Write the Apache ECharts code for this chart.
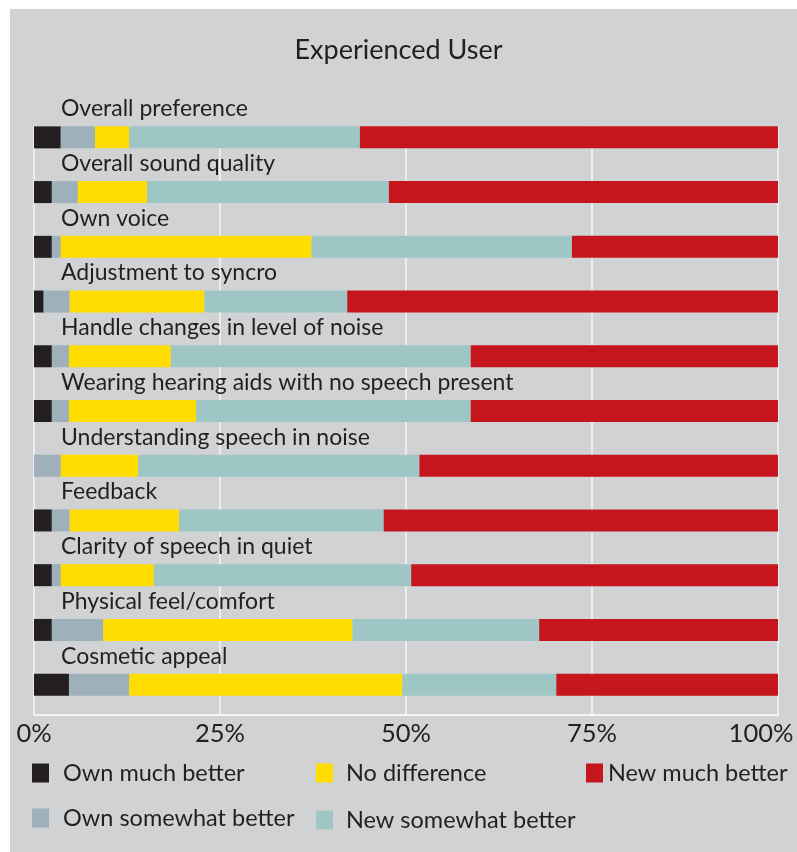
<!DOCTYPE html>
<html>
<head>
<meta charset="utf-8">
<script src="https://cdn.jsdelivr.net/npm/echarts@6/dist/echarts.min.js"></script>
<style>
html,body{margin:0;padding:0;background:#ffffff;}
#chart{width:797px;height:852px;}
</style>
</head>
<body>
<div id="chart"></div>
<script>
var titleText = 'Experienced User';
var categories = [
  'Overall preference',
  'Overall sound quality',
  'Own voice',
  'Adjustment to syncro',
  'Handle changes in level of noise',
  'Wearing hearing aids with no speech present',
  'Understanding speech in noise',
  'Feedback',
  'Clarity of speech in quiet',
  'Physical feel/comfort',
  'Cosmetic appeal'
];
var seriesNames = ['Own much better', 'Own somewhat better', 'No difference', 'New somewhat better', 'New much better'];
var ownMuchBetter      = [3.6, 2.4, 2.4, 1.3, 2.4, 2.4, 0.0, 2.4, 2.4, 2.4, 4.7];
var ownSomewhatBetter  = [4.6, 3.5, 1.2, 3.5, 2.3, 2.3, 3.6, 2.4, 1.2, 6.9, 8.1];
var noDifference       = [4.6, 9.3, 33.7, 18.1, 13.7, 17.1, 10.4, 14.7, 12.5, 33.5, 36.7];
var newSomewhatBetter  = [31.0, 32.5, 35.0, 19.2, 40.3, 36.9, 37.8, 27.5, 34.6, 25.1, 20.7];
var newMuchBetter      = [56.2, 52.3, 27.7, 57.9, 41.3, 41.3, 48.2, 53.0, 49.3, 32.1, 29.8];
var tickValues = [0, 25, 50, 75, 100];

var colors = ['#231f20', '#9eb1ba', '#ffdd00', '#9ec6c5', '#c4161c'];
var seriesData = [ownMuchBetter, ownSomewhatBetter, noDifference, newSomewhatBetter, newMuchBetter];
var FONT = 'Lato';
var TXT = '#231f20';

var chart = echarts.init(document.getElementById('chart'), null, {renderer: 'canvas'});

var series = seriesNames.map(function (name, i) {
  return {
    name: name,
    type: 'bar',
    stack: 'total',
    xAxisIndex: 0,
    yAxisIndex: 0,
    barWidth: 22,
    itemStyle: {color: colors[i]},
    emphasis: {disabled: true},
    animation: false,
    data: seriesData[i]
  };
});

function legendAt(name, left, top, gapPad) {
  return {
    data: [name],
    left: left,
    top: top,
    padding: 0,
    itemWidth: 17,
    itemHeight: 19,
    icon: 'rect',
    selectedMode: false,
    textStyle: {fontFamily: FONT, fontSize: 23.5, color: TXT, lineHeight: 19, padding: [0, 0, 0, gapPad]}
  };
}

var option = {
  backgroundColor: '#ffffff',
  animation: false,
  textStyle: {fontFamily: FONT},
  graphic: [{
    type: 'rect',
    z: -10,
    silent: true,
    shape: {x: 10, y: 9, width: 787, height: 843},
    style: {fill: '#d1d2d4'}
  }],
  title: {
    text: titleText,
    left: 'center',
    top: 37,
    padding: 0,
    textStyle: {fontFamily: FONT, fontSize: 27, fontWeight: 'normal', color: TXT}
  },
  legend: [
    legendAt(seriesNames[0], 32, 761, 9),
    legendAt(seriesNames[2], 316, 761, 8),
    legendAt(seriesNames[4], 586, 761, 0),
    legendAt(seriesNames[1], 32, 806, 9),
    legendAt(seriesNames[3], 316, 808, 8)
  ],
  grid: [
    {left: 34, right: 19, top: 110, height: 602, containLabel: false},
    {left: 34, right: 19, top: 126, bottom: 137, containLabel: false}
  ],
  xAxis: [
    {type: 'value', gridIndex: 0, min: 0, max: 100, show: false},
    {
      type: 'value', gridIndex: 1, min: 0, max: 100, interval: 25,
      axisLine: {show: true, lineStyle: {color: '#ffffff', width: 1.5}},
      axisTick: {show: false},
      splitLine: {show: true, lineStyle: {color: '#f4f4f4', width: 1.5}},
      axisLabel: {
        margin: 6,
        fontFamily: FONT, fontSize: 25.5, color: TXT,
        formatter: function (v) {
          return v === 100 ? '{r|' + v + '%}' : v + '%';
        },
        rich: {r: {fontFamily: FONT, fontSize: 25.5, color: TXT, padding: [0, 34, 0, 0]}}
      }
    }
  ],
  yAxis: [
    {
      type: 'category', gridIndex: 0, inverse: true, data: categories,
      axisLine: {show: false}, axisTick: {show: false}, splitLine: {show: false},
      axisLabel: {
        inside: true, margin: 27, interval: 0,
        showMinLabel: true, showMaxLabel: true,
        fontFamily: FONT, fontSize: 23, color: TXT,
        verticalAlign: 'bottom',
        lineHeight: 57
      }
    },
    {type: 'value', gridIndex: 1, show: false, min: 0, max: 1}
  ],
  series: series
};
chart.setOption(option);
</script>
</body>
</html>
